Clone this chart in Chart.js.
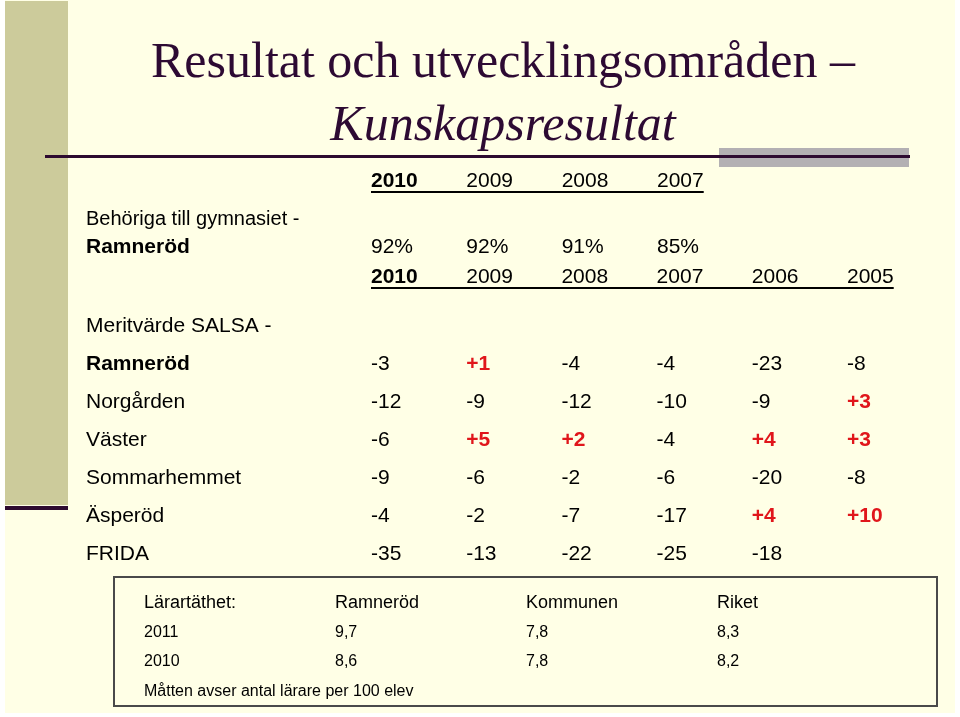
<!DOCTYPE html>
<html lang="sv">
<head>
<meta charset="utf-8">
<title>Resultat och utvecklingsområden</title>
<script src="https://cdn.jsdelivr.net/npm/chart.js@4.4.1/dist/chart.umd.min.js"></script>
<style>
  body { margin: 0; width: 960px; height: 717px; background: #fff; position: relative; overflow: hidden; }
  .abs { position: absolute; }
  #slide { left: 5px; top: 0; width: 950px; height: 713px; background: #FFFFE6; }
  #sidebar { left: 5px; top: 1px; width: 63px; height: 504px; background: #CCCB9B; }
  #sideline { left: 5px; top: 506px; width: 63px; height: 4px; background: #2D0A30; }
  #greybar { left: 719px; top: 148px; width: 190px; height: 19px; background: #B3B0B3; }
  #rule { left: 45px; top: 155px; width: 865px; height: 3px; background: #2D0A30; }
  .heading { left: 0; width: 1006px; text-align: center; white-space: nowrap; color: #2D0A33;
             font-family: "Liberation Serif", "Times New Roman", serif; font-size: 50px; line-height: 50px; }
  #title { top: 35px; }
  #subtitle { top: 98px; font-style: italic; }
  #box { left: 113px; top: 576px; width: 825px; height: 131px; box-sizing: border-box; border: 2px solid #4A4A4A; }
  canvas { position: absolute; left: 0; top: 0; }
</style>
</head>
<body>
<div class="abs" id="slide"></div>
<div class="abs" id="sidebar"></div>
<div class="abs" id="sideline"></div>
<div class="abs heading" id="title">Resultat och utvecklingsområden –</div>
<div class="abs heading" id="subtitle">Kunskapsresultat</div>
<div class="abs" id="greybar"></div>
<div class="abs" id="rule"></div>
<div class="abs" id="box"></div>
<canvas id="eligibleChart" width="960" height="717"></canvas>
<canvas id="meritChart" width="960" height="717"></canvas>
<canvas id="densityChart" width="960" height="717"></canvas>
<script>
// Behöriga till gymnasiet - Ramneröd (%)
const eligibleYears = ['2010', '2009', '2008', '2007'];
const eligibleRamnerod = [92, 92, 91, 85];

// Meritvärde SALSA
const meritYears = ['2010', '2009', '2008', '2007', '2006', '2005'];
const schools = ['Ramneröd', 'Norgården', 'Väster', 'Sommarhemmet', 'Äsperöd', 'FRIDA'];
const ramnerod = [-3, 1, -4, -4, -23, -8];
const norgarden = [-12, -9, -12, -10, -9, 3];
const vaster = [-6, 5, 2, -4, 4, 3];
const sommarhemmet = [-9, -6, -2, -6, -20, -8];
const asperod = [-4, -2, -7, -17, 4, 10];
const frida = [-35, -13, -22, -25, -18, null];

// Lärartäthet (lärare per 100 elever)
const densityColumns = ['Ramneröd', 'Kommunen', 'Riket'];
const densityYears = ['2011', '2010'];
const densityRamnerod = [9.7, 8.6];
const densityKommunen = [7.8, 7.8];
const densityRiket = [8.3, 8.2];

const SANS = '"Liberation Sans", Arial, sans-serif';
const RED = '#E0161B';

function font(size, bold) {
    return (bold ? 'bold ' : '') + size + 'px ' + SANS;
}

// draws the year header with the long underline used on the slide
function drawHeader(ctx, xs, years, y) {
    years.forEach((yr, i) => {
        ctx.font = font(21, i === 0);
        ctx.fillText(yr, xs.getPixelForValue(i), y);
    });
    const x0 = xs.getPixelForValue(0);
    ctx.font = font(21, false);
    const x1 = xs.getPixelForValue(years.length - 1) + ctx.measureText(years[years.length - 1]).width;
    ctx.fillRect(x0, y + 4, x1 - x0, 2);
}

const eligibleTable = {
    id: 'eligibleTable',
    afterDatasetsDraw(chart) {
        const ctx = chart.ctx;
        const xs = chart.scales.x;
        const ys = chart.scales.y;
        ctx.save();
        ctx.fillStyle = '#000';
        ctx.textAlign = 'left';
        ctx.textBaseline = 'alphabetic';
        drawHeader(ctx, xs, eligibleYears, ys.getPixelForValue(0));
        const rowY = ys.getPixelForValue(1);
        ctx.font = font(20, false);
        ctx.fillText('Behöriga till gymnasiet -', 86, rowY - 28);
        ctx.font = font(21, true);
        ctx.fillText('Ramneröd', 86, rowY);
        ctx.font = font(21, false);
        const meta = chart.getDatasetMeta(0);
        meta.data.forEach((pt, i) => {
            ctx.fillText(chart.data.datasets[0].data[i].v + '%', pt.x, pt.y);
        });
        ctx.restore();
    }
};

const meritTable = {
    id: 'meritTable',
    afterDatasetsDraw(chart) {
        const ctx = chart.ctx;
        const xs = chart.scales.x;
        const ys = chart.scales.y;
        const firstRow = ys.getPixelForValue(0);
        ctx.save();
        ctx.fillStyle = '#000';
        ctx.textAlign = 'left';
        ctx.textBaseline = 'alphabetic';
        drawHeader(ctx, xs, meritYears, firstRow - 87);
        ctx.font = font(21, false);
        ctx.fillText('Meritvärde SALSA -', 86, firstRow - 38);

        chart.data.datasets.forEach((ds, r) => {
            ctx.fillStyle = '#000';
            ctx.font = font(21, r === 0);
            ctx.fillText(ds.label, 86, ys.getPixelForValue(r));
            const meta = chart.getDatasetMeta(r);
            meta.data.forEach((pt, c) => {
                const v = ds.data[c].v;
                if (v === null) return;
                if (v > 0) {
                    ctx.fillStyle = RED;
                    ctx.font = font(21, true);
                    ctx.fillText('+' + v, pt.x, pt.y);
                } else {
                    ctx.fillStyle = '#000';
                    ctx.font = font(21, false);
                    ctx.fillText(String(v), pt.x, pt.y);
                }
            });
        });
        ctx.restore();
    }
};

const densityTable = {
    id: 'densityTable',
    afterDatasetsDraw(chart) {
        const ctx = chart.ctx;
        const xs = chart.scales.x;
        const ys = chart.scales.y;
        ctx.save();
        ctx.fillStyle = '#000';
        ctx.textAlign = 'left';
        ctx.textBaseline = 'alphabetic';
        ctx.font = font(18, false);
        xs.getLabels().forEach((label, i) => {
            ctx.fillText(label, xs.getPixelForValue(i), ys.getPixelForValue(0));
        });
        ctx.font = font(16, false);
        densityYears.forEach((yr, i) => {
            ctx.fillText(yr, xs.getPixelForValue(0), ys.getPixelForValue(i + 1));
        });
        chart.data.datasets.forEach((ds, d) => {
            chart.getDatasetMeta(d).data.forEach((pt, i) => {
                ctx.fillText(ds.data[i].v.toFixed(1).replace('.', ','), pt.x, pt.y);
            });
        });
        ctx.fillText('Måtten avser antal lärare per 100 elev', xs.getPixelForValue(0), ys.getPixelForValue(densityYears.length) + 30);
        ctx.restore();
    }
};

function baseOptions(padding, xLabels, yLabels) {
    return {
        responsive: false,
        animation: false,
        events: [],
        layout: { padding: padding },
        scales: {
            x: { type: 'category', labels: xLabels, display: false, offset: false },
            y: { type: 'category', labels: yLabels, display: false, offset: false }
        },
        plugins: { legend: { display: false }, tooltip: { enabled: false } }
    };
}

// table 1: header row at the top of the area, values on the second row
new Chart(document.getElementById('eligibleChart'), {
    type: 'line',
    data: {
        datasets: [{
            label: 'Ramneröd',
            data: eligibleYears.map((yr, i) => ({ x: yr, y: 'Ramneröd', v: eligibleRamnerod[i] })),
            showLine: false,
            pointRadius: 0
        }]
    },
    options: baseOptions({ left: 371, right: 303, top: 187, bottom: 464 }, eligibleYears, ['År', 'Ramneröd']),
    plugins: [eligibleTable]
});

const meritRows = [ramnerod, norgarden, vaster, sommarhemmet, asperod, frida];

new Chart(document.getElementById('meritChart'), {
    type: 'line',
    data: {
        datasets: schools.map((school, r) => ({
            label: school,
            data: meritYears.map((yr, c) => ({ x: yr, y: school, v: meritRows[r][c] })),
            showLine: false,
            pointRadius: 0
        }))
    },
    options: baseOptions({ left: 371, right: 113, top: 370, bottom: 157 }, meritYears, schools),
    plugins: [meritTable]
});

const densityValues = [densityRamnerod, densityKommunen, densityRiket];

new Chart(document.getElementById('densityChart'), {
    type: 'line',
    data: {
        datasets: densityColumns.map((col, d) => ({
            label: col,
            data: densityYears.map((yr, i) => ({ x: col, y: yr, v: densityValues[d][i] })),
            showLine: false,
            pointRadius: 0
        }))
    },
    options: baseOptions({ left: 144, right: 243, top: 608, bottom: 51 },
        ['Lärartäthet:'].concat(densityColumns), ['Lärartäthet:'].concat(densityYears)),
    plugins: [densityTable]
});
</script>
</body>
</html>
